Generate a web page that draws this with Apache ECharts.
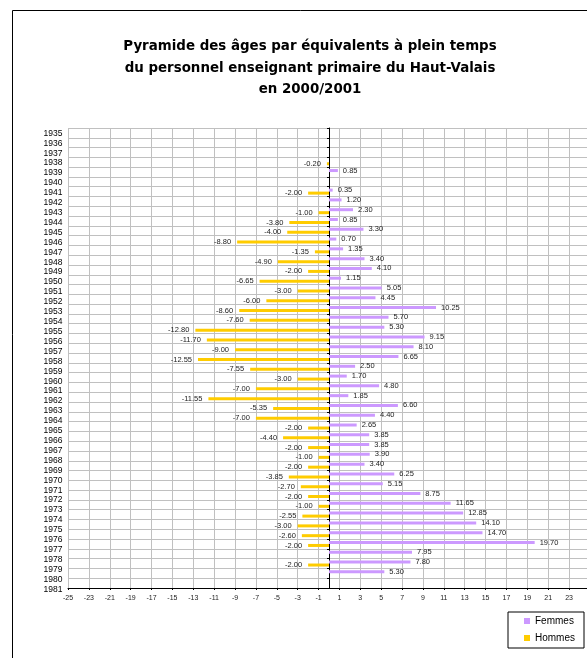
<!DOCTYPE html>
<html>
<head>
<meta charset="utf-8">
<script src="https://cdn.jsdelivr.net/npm/echarts@6/dist/echarts.min.js"></script>
<style>
html,body{margin:0;padding:0;background:#fff;}
#chart{width:587px;height:658px;}
</style>
</head>
<body>
<div id="chart"></div>
<script>
// Categories (birth years)
var years = ['1935','1936','1937','1938','1939','1940','1941','1942','1943','1944','1945','1946','1947','1948','1949','1950','1951','1952','1953','1954','1955','1956','1957','1958','1959','1960','1961','1962','1963','1964','1965','1966','1967','1968','1969','1970','1971','1972','1973','1974','1975','1976','1977','1978','1979','1980','1981'];
// Femmes (FTE)
var femmes = [null,null,null,null,0.85,null,0.35,1.20,2.30,0.85,3.30,0.70,1.35,3.40,4.10,1.15,5.05,4.45,10.25,5.70,5.30,9.15,8.10,6.65,2.50,1.70,4.80,1.85,6.60,4.40,2.65,3.85,3.85,3.90,3.40,6.25,5.15,8.75,11.65,12.85,14.10,14.70,19.70,7.95,7.80,5.30,null];
// Hommes (FTE, negative)
var hommes = [null,null,null,-0.20,null,null,-2.00,null,-1.00,-3.80,-4.00,-8.80,-1.35,-4.90,-2.00,-6.65,-3.00,-6.00,-8.60,-7.60,-12.80,-11.70,-9.00,-12.55,-7.55,-3.00,-7.00,-11.55,-5.35,-7.00,-2.00,-4.40,-2.00,-1.00,-2.00,-3.85,-2.70,-2.00,-1.00,-2.55,-3.00,-2.60,-2.00,null,-2.00,null,null];
// Value axis ticks
var xMin = -25, xMax = 25, xStep = 2;

var titleText = 'Pyramide des âges par équivalents à plein temps\ndu personnel enseignant primaire du Haut-Valais\nen 2000/2001';

var chart = echarts.init(document.getElementById('chart'), null, {renderer: 'canvas'});
var labelFont = {fontFamily: 'Liberation Sans', fontSize: 7.5, color: '#222'};

chart.setOption({
  backgroundColor: '#ffffff',
  animation: false,
  title: {
    text: titleText,
    left: 310,
    top: 36,
    padding: 0,
    textAlign: 'center',
    textStyle: {fontFamily: 'DejaVu Sans', fontWeight: 'bold', fontSize: 13.4, lineHeight: 21.5, color: '#000'}
  },
  legend: {
    orient: 'vertical',
    left: 508,
    top: 612,
    padding: [4, 9, 5, 16],
    itemWidth: 6,
    itemHeight: 6,
    itemGap: 7,
    icon: 'rect',
    borderColor: '#000',
    borderWidth: 1,
    textStyle: {fontFamily: 'Liberation Sans', fontSize: 10, color: '#000'},
    data: ['Femmes', 'Hommes']
  },
  graphic: [{
    type: 'rect',
    shape: {x: 12.5, y: 10.5, width: 600, height: 700},
    style: {fill: 'none', stroke: '#000', lineWidth: 1},
    silent: true,
    z: -1
  }],
  grid: [
    {left: 68, top: 128, width: 522, height: 460, outerBoundsMode: 'none', containLabel: false},
    {left: 68, top: 128.4, width: 522, height: 465.9, outerBoundsMode: 'none', containLabel: false}
  ],
  xAxis: [{
    type: 'value',
    gridIndex: 0,
    min: xMin,
    max: xMax,
    interval: xStep,
    axisLine: {show: true, lineStyle: {color: '#000', width: 1}},
    axisTick: {show: true, length: 2, lineStyle: {color: '#000'}},
    axisLabel: {fontFamily: 'Liberation Sans', fontSize: 7, color: '#222', margin: 7, hideOverlap: false, showMaxLabel: false},
    splitLine: {show: true, lineStyle: {color: '#c0c0c0', width: 1}}
  }, {
    type: 'value',
    gridIndex: 1,
    min: 0,
    max: 1,
    show: false
  }],
  yAxis: [{
    type: 'category',
    gridIndex: 0,
    data: years,
    inverse: true,
    axisLine: {show: true, onZero: true, lineStyle: {color: '#000', width: 1}},
    axisTick: {show: true, length: 2, interval: 0, lineStyle: {color: '#000'}},
    axisLabel: {show: false, interval: 0},
    splitLine: {show: true, interval: 0, lineStyle: {color: '#c0c0c0', width: 1}}
  }, {
    type: 'category',
    gridIndex: 1,
    data: years,
    inverse: true,
    axisLine: {show: false},
    axisTick: {show: false},
    splitLine: {show: false},
    axisLabel: {interval: 0, fontFamily: 'Liberation Sans', fontSize: 8.5, color: '#000', margin: 5.5, hideOverlap: false}
  }],
  series: [{
    name: 'Femmes',
    type: 'bar',
    xAxisIndex: 0,
    yAxisIndex: 0,
    data: femmes,
    barWidth: 3,
    barGap: '0%',
    itemStyle: {color: '#cc99ff'},
    label: Object.assign({
      show: true,
      position: 'right',
      distance: 5,
      formatter: function (p) { return p.value == null ? '' : p.value.toFixed(2); }
    }, labelFont)
  }, {
    name: 'Hommes',
    type: 'bar',
    xAxisIndex: 0,
    yAxisIndex: 0,
    data: hommes,
    barWidth: 3,
    barGap: '0%',
    itemStyle: {color: '#ffcc00'},
    label: Object.assign({
      show: true,
      position: 'left',
      distance: 6,
      formatter: function (p) { return p.value == null ? '' : p.value.toFixed(2); }
    }, labelFont)
  }]
});
</script>
</body>
</html>
